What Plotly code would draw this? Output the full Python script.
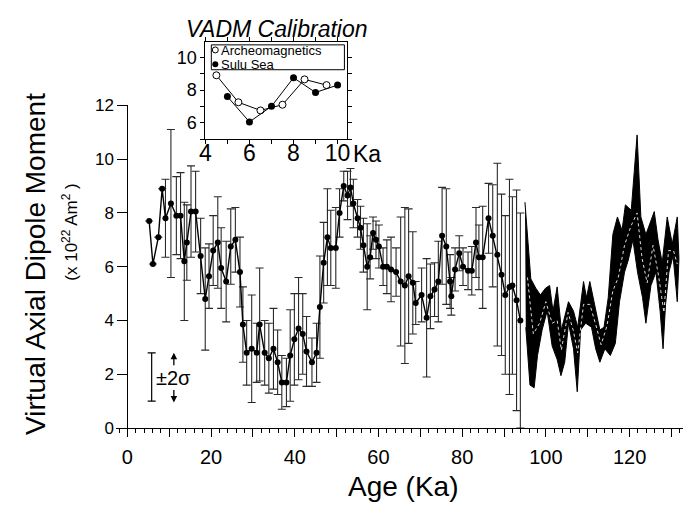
import plotly.graph_objects as go

# ---------------- data ----------------
ages = [5.2, 6.1, 7.4, 8.3, 9.1, 10.4, 11.7, 12.7, 13.6, 14.2,
        15.2, 16.3, 17.5, 18.6, 19.5, 20.5, 21.6, 22.4, 23.6, 24.7,
        25.8, 26.9, 27.6, 28.5, 29.7, 30.9, 31.6, 32.8, 33.8, 34.9,
        35.9, 36.9, 38.0, 38.9, 39.9, 40.9, 41.9, 42.8, 44.1, 45.2,
        46.0, 46.9, 47.8, 48.6, 49.8, 50.7, 51.7, 52.6, 53.3, 54.0,
        55.0, 55.7, 56.4, 57.3, 58.0, 58.7, 59.4, 60.1, 61.1, 62.0,
        63.0, 64.2, 65.3, 66.3, 67.2, 68.2, 68.9, 70.3, 71.5, 72.4,
        73.4, 74.3, 75.2, 76.2, 77.1, 77.4, 78.3, 79.3, 80.2, 81.4,
        82.3, 83.3, 84.0, 84.9, 86.3, 87.3, 88.4, 89.4, 90.3, 91.3,
        92.0, 93.0, 93.9]
vadm = [7.7, 6.1, 7.1, 8.9, 7.8, 8.35, 7.9, 7.9, 6.2, 6.9,
        8.05, 8.05, 6.4, 4.8, 5.65, 6.6, 6.9, 5.95, 5.45, 6.75,
        7.0, 5.8, 3.85, 2.8, 2.95, 2.8, 3.85, 2.8, 2.6, 2.95,
        2.45, 1.7, 1.7, 2.7, 3.3, 3.7, 3.5, 2.85, 2.45, 2.8,
        4.5, 6.15, 7.1, 6.7, 6.7, 8.0, 9.0, 8.65, 8.95, 8.35,
        7.8, 7.45, 6.8, 6.0, 6.35, 7.25, 7.0, 6.75, 6.0, 6.0,
        5.9, 5.8, 5.45, 5.3, 5.65, 5.4, 4.65, 4.95, 4.1, 4.9,
        5.15, 5.45, 7.15, 6.75, 5.45, 4.9, 5.9, 6.5, 6.0, 5.85,
        5.85, 6.9, 6.35, 6.35, 7.8, 7.15, 6.45, 5.7, 4.95, 5.25,
        5.3, 4.75, 4.0]
sigma2 = [0, 0, 0, 0, 1.45, 2.75, 1.45, 1.6, 2.2, 1.4,
          1.7, 1.5, 1.4, 1.9, 1.2, 1.3, 1.7, 1.5, 1.5, 1.4,
          1.2, 1.3, 1.4, 1.2, 2.0, 1.1, 2.1, 1.2, 1.3, 1.5,
          1.2, 1.0, 0.9, 1.7, 1.7, 1.9, 1.5, 1.3, 0.9, 1.1,
          1.9, 1.5, 1.8, 1.4, 1.5, 0.9, 0.55, 0.9, 0.7, 0.9,
          0.7, 0.8, 1.0, 1.6, 0.8, 0.6, 0.7, 0.8, 0.7, 1.0,
          1.2, 0.9, 2.4, 2.9, 2.5, 1.9, 0.8, 1.0, 2.2, 1.2,
          1.0, 1.5, 1.8, 2.15, 1.0, 0.7, 0.8, 0.65, 0.7, 0.7,
          0.9, 1.3, 1.2, 1.9, 1.3, 1.9, 3.4, 3.0, 2.95, 4.0,
          3.3, 4.1, 4.0]

band_up_age = [95.0, 96.4, 97.6, 98.7, 99.9, 100.9, 101.7, 102.7, 103.7, 105.4,
               106.6, 107.6, 109.0, 109.7, 110.5, 111.7, 112.9, 113.9, 114.9, 116.0,
               117.1, 118.2, 119.0, 120.4, 121.8, 122.7, 123.9, 125.9, 126.8, 127.8,
               129.0, 130.2, 131.4, 131.8]
band_up = [8.4, 5.55, 5.2, 4.95, 5.2, 5.3, 4.35, 5.25, 3.65, 4.7,
           4.35, 3.75, 5.45, 4.85, 5.45, 4.6, 3.65, 3.75, 4.85, 7.2,
           7.85, 7.35, 8.3, 8.1, 10.9, 7.85, 7.2, 8.05, 7.0, 6.15,
           7.85, 6.85, 7.85, 6.3]
band_lo_age = [95.2, 96.2, 97.2, 98.0, 99.1, 100.3, 101.5, 102.7, 103.6, 104.5,
               105.4, 106.6, 107.5, 108.3, 109.5, 110.9, 111.9, 112.9, 114.1, 115.4,
               116.6, 117.6, 118.8, 119.7, 120.8, 121.9, 123.1, 123.9, 125.1, 126.3,
               127.3, 128.0, 128.6, 129.4, 130.4, 131.4]
band_lo = [3.75, 1.6, 1.5, 2.7, 3.65, 4.35, 3.05, 2.55, 1.95, 2.45,
           3.9, 2.95, 1.35, 3.65, 3.9, 3.75, 2.95, 2.45, 2.95, 2.7,
           3.15, 4.7, 5.8, 6.25, 7.0, 5.8, 4.85, 3.9, 5.3, 5.8,
           4.35, 2.95, 4.6, 5.8, 6.4, 4.7]
band_mid_age = [95.6, 97.0, 98.5, 100.0, 101.5, 102.7, 103.7, 105.3, 106.6, 107.6,
                109.0, 110.5, 112.0, 113.2, 114.6, 116.0, 117.3, 118.8, 120.3, 121.8,
                123.0, 124.2, 125.6, 127.0, 128.2, 129.3, 130.5, 131.4]
band_mid = [5.6, 3.5, 3.9, 4.7, 3.9, 4.0, 2.9, 4.3, 3.6, 2.8,
            4.6, 4.6, 3.8, 3.1, 3.8, 5.1, 5.6, 6.8, 7.5, 8.0,
            6.3, 5.4, 6.8, 5.6, 4.3, 6.6, 6.6, 6.1]

# +-2 sigma scale bar
scale_age = [5.8]
scale_val = [1.9]
scale_err = [0.9]

# inset (VADM calibration)
arch_age = [4.5, 5.5, 6.5, 7.5, 8.5, 9.5]
arch_val = [8.9, 7.25, 6.75, 7.1, 8.65, 8.3]
sulu_age = [5.0, 6.0, 7.0, 8.0, 9.0, 10.0]
sulu_val = [7.6, 6.05, 7.0, 8.75, 7.85, 8.3]

x_tickvals = [0, 10, 20, 30, 40, 50, 60, 70, 80, 90, 100, 110, 120, 130]
x_ticktext = ["0", "", "20", "", "40", "", "60", "", "80", "", "100", "", "120", ""]
y_tickvals = [0, 2, 4, 6, 8, 10, 12]
ix_tickvals = [4, 5, 6, 7, 8, 9, 10]
ix_ticktext = ["4", "", "6", "", "8", "", "10"]
iy_tickvals = [5, 6, 7, 8, 9, 10]
iy_ticktext = ["", "6", "", "8", "", "10"]

# ---------------- layout geometry (pixels) ----------------
W, H = 691, 520
X0PX, XPPU = 123.0, 4.24      # pixel of age 0, px per Ka
XMIN, XMAX = -2.8, 132.8
Y0PX, Y12PX = 435.0, 100.0

FONT = "Liberation Sans, Arial, Helvetica, sans-serif"

fig = go.Figure()

# band (93-132 Ka)
fig.add_trace(go.Scatter(
    x=band_up_age + band_lo_age[::-1], y=band_up + band_lo[::-1],
    fill="toself", fillcolor="black", mode="lines",
    line=dict(color="black", width=1), hoverinfo="skip", showlegend=False))
fig.add_trace(go.Scatter(
    x=band_mid_age, y=band_mid, mode="lines",
    line=dict(color="#dddddd", width=1, dash="dot"), showlegend=False))

# main record with error bars
fig.add_trace(go.Scatter(
    x=ages, y=vadm, mode="lines+markers",
    line=dict(color="black", width=1.4),
    marker=dict(color="black", size=6),
    error_y=dict(type="data", array=sigma2, visible=True,
                 color="#2a2a2a", thickness=1.1, width=4),
    showlegend=False))

# +-2 sigma scale bar
fig.add_trace(go.Scatter(
    x=scale_age, y=scale_val, mode="markers",
    marker=dict(size=1, color="rgba(0,0,0,0)"),
    error_y=dict(type="data", array=scale_err, visible=True,
                 color="black", thickness=1.2, width=4),
    showlegend=False))

# inset traces
fig.add_trace(go.Scatter(
    x=arch_age, y=arch_val, mode="lines+markers", xaxis="x2", yaxis="y2",
    line=dict(color="black", width=1),
    marker=dict(symbol="circle", size=7, color="white", line=dict(color="black", width=1)),
    showlegend=False, cliponaxis=False))
fig.add_trace(go.Scatter(
    x=sulu_age, y=sulu_val, mode="lines+markers", xaxis="x2", yaxis="y2",
    line=dict(color="black", width=1),
    marker=dict(symbol="circle", size=7, color="black"),
    showlegend=False, cliponaxis=False))
# inset legend symbols
fig.add_trace(go.Scatter(
    x=[4.45], y=[10.45], mode="markers", xaxis="x2", yaxis="y2",
    marker=dict(symbol="circle", size=6, color="white", line=dict(color="black", width=1)),
    showlegend=False, cliponaxis=False))
fig.add_trace(go.Scatter(
    x=[4.45], y=[9.58], mode="markers", xaxis="x2", yaxis="y2",
    marker=dict(symbol="circle", size=6, color="black"),
    showlegend=False, cliponaxis=False))

xd0 = (X0PX + XMIN * XPPU) / W
xd1 = (X0PX + XMAX * XPPU) / W
yd0 = 1 - Y0PX / H
yd1 = 1 - Y12PX / H

axis_common = dict(showline=True, linecolor="black", linewidth=1, showgrid=False,
                   zeroline=False, tickcolor="black", ticks="outside")

fig.update_layout(
    width=W, height=H,
    margin=dict(l=0, r=0, t=0, b=0),
    paper_bgcolor="white", plot_bgcolor="white",
    font=dict(family=FONT, color="black"),
    xaxis=dict(domain=[xd0, xd1], range=[XMIN, XMAX], anchor="y",
               tickvals=x_tickvals, ticktext=x_ticktext, ticklen=8, tickwidth=1,
               tickfont=dict(size=20), ticklabelstandoff=3,
               minor=dict(dtick=2, ticklen=4, tickcolor="black", ticks="outside"),
               **axis_common),
    yaxis=dict(domain=[yd0, yd1], range=[0, 12], anchor="free",
               position=X0PX / W, tickvals=y_tickvals, ticklen=10,
               tickfont=dict(size=17), **axis_common),
    xaxis2=dict(domain=[202 / W, 346 / W], range=[4, 10.45], anchor="y2",
                tickvals=ix_tickvals, ticktext=ix_ticktext, ticklen=4,
                tickfont=dict(size=23), mirror="ticks", ticklabelstandoff=-11,
                **axis_common),
    yaxis2=dict(domain=[1 - 135 / H, 1 - 34 / H], range=[5, 10.95], anchor="x2",
                tickvals=iy_tickvals, ticktext=iy_ticktext, ticklen=4,
                tickfont=dict(size=18), mirror="ticks", **axis_common),
)

# inset legend box
fig.add_shape(type="rect", xref="x2", yref="y2", x0=4.27, x1=10.31, y0=9.24, y1=10.76,
              line=dict(color="black", width=1), fillcolor="rgba(0,0,0,0)")

annotations = [
    dict(text="Archeomagnetics", x=4.62, y=10.42, xref="x2", yref="y2",
         xanchor="left", yanchor="middle", showarrow=False, font=dict(size=13)),
    dict(text="Sulu Sea", x=4.62, y=9.56, xref="x2", yref="y2",
         xanchor="left", yanchor="middle", showarrow=False, font=dict(size=13)),
    dict(text="<i>VADM Calibration</i>", x=275 / W, y=1 - 21 / H, xref="paper", yref="paper",
         xanchor="center", yanchor="middle", showarrow=False, font=dict(size=23)),
    dict(text="Ka", x=366 / W, y=1 - 150 / H, xref="paper", yref="paper",
         xanchor="center", yanchor="middle", showarrow=False, font=dict(size=23)),
    dict(text="Virtual Axial Dipole Moment", x=30 / W, y=1 - 265 / H, xref="paper", yref="paper",
         xanchor="center", yanchor="middle", textangle=-90, showarrow=False, font=dict(size=28)),
    dict(text="(x 10<sup>22</sup> Am<sup>2</sup> )", x=64 / W, y=1 - 232 / H, xref="paper", yref="paper",
         xanchor="center", yanchor="middle", textangle=-90, showarrow=False, font=dict(size=17)),
    dict(text="Age (Ka)", x=403 / W, y=1 - 496 / H, xref="paper", yref="paper",
         xanchor="center", yanchor="middle", showarrow=False, font=dict(size=28)),
    dict(text="\u00b12\u03c3", x=11.0, y=1.85, xref="x", yref="y",
         xanchor="center", yanchor="middle", showarrow=False, font=dict(size=20)),
    dict(text="", x=11.1, y=2.8, xref="x", yref="y", ax=0, ay=14,
         showarrow=True, arrowhead=2, arrowsize=1, arrowwidth=1.3, arrowcolor="black"),
    dict(text="", x=11.1, y=0.95, xref="x", yref="y", ax=0, ay=-14,
         showarrow=True, arrowhead=2, arrowsize=1, arrowwidth=1.3, arrowcolor="black"),
]
fig.update_layout(annotations=annotations)

fig.write_html("out.html")
